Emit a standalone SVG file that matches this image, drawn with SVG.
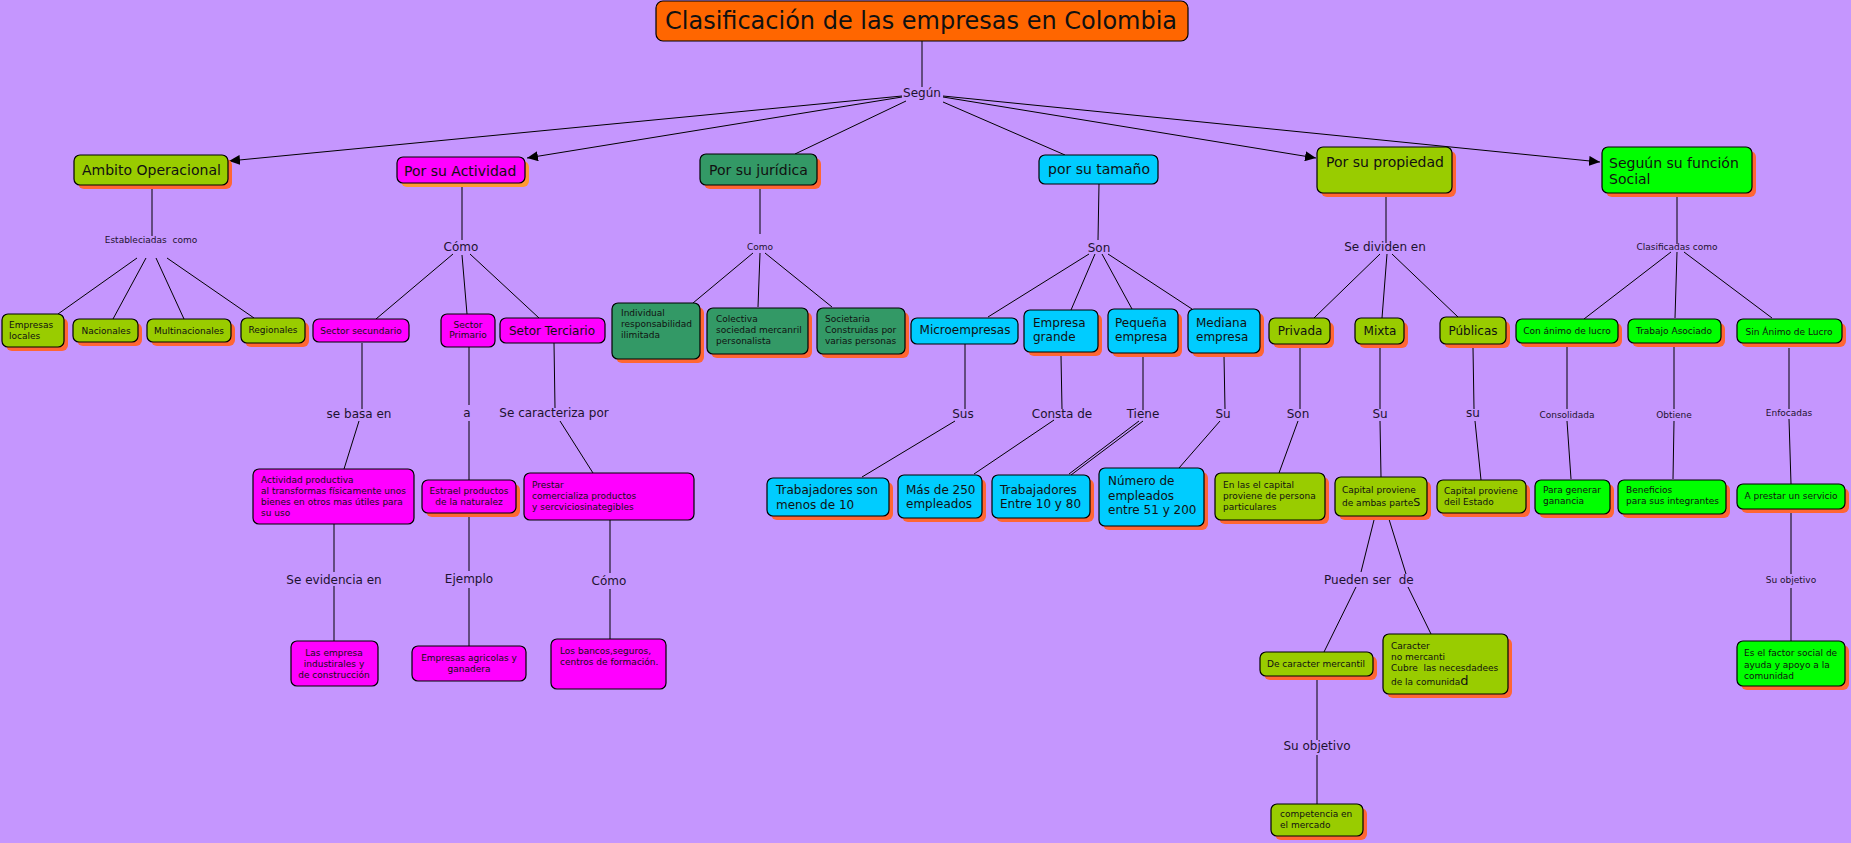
<svg xmlns="http://www.w3.org/2000/svg" width="1851" height="843" viewBox="0 0 1851 843">
<defs>
<style>
.bx{stroke:#000;stroke-width:1.2}
.sh{fill:#FF6633}
.sh2{fill:#FF9933}
.og{fill:#99CC00}.mg{fill:#FF00FF}.dg{fill:#339966}.cy{fill:#00CCFF}.gr{fill:#00FF00}.or{fill:#FF6600}
text{font-family:"DejaVu Sans",Verdana,sans-serif;fill:#111}
.f24{font-size:24px}.f14{font-size:14px}.f12{font-size:12px}.f9{font-size:9px}
.m{text-anchor:middle}
.lb{fill:#1d1230}
.ln{stroke:#000;stroke-width:1;fill:none}
</style>
<marker id="ar" markerUnits="userSpaceOnUse" markerWidth="11" markerHeight="10" refX="11" refY="5" orient="auto">
<path d="M0,0 L11,5 L0,10 z" fill="#000"/>
</marker>
</defs>
<rect width="1851" height="843" fill="#C596FE"/>

<g id="connectors">
<line class="ln" x1="922" y1="41" x2="922" y2="87"/>
<line class="ln" x1="902" y1="96" x2="229" y2="161" marker-end="url(#ar)"/>
<line class="ln" x1="902" y1="97" x2="527" y2="158" marker-end="url(#ar)"/>
<line class="ln" x1="906" y1="101" x2="795" y2="154"/>
<line class="ln" x1="943" y1="102" x2="1065" y2="155"/>
<line class="ln" x1="943" y1="97" x2="1316" y2="158" marker-end="url(#ar)"/>
<line class="ln" x1="943" y1="96" x2="1600" y2="162" marker-end="url(#ar)"/>

<line class="ln" x1="152" y1="189" x2="152" y2="236"/>
<line class="ln" x1="137" y1="258" x2="58" y2="314"/>
<line class="ln" x1="146" y1="258" x2="113" y2="319"/>
<line class="ln" x1="156" y1="258" x2="184" y2="319"/>
<line class="ln" x1="167" y1="258" x2="254" y2="318"/>

<line class="ln" x1="462" y1="187" x2="462" y2="240"/>
<line class="ln" x1="453" y1="254" x2="376" y2="319"/>
<line class="ln" x1="462" y1="255" x2="467" y2="314"/>
<line class="ln" x1="470" y1="254" x2="539" y2="318"/>

<line class="ln" x1="760" y1="189" x2="760" y2="234"/>
<line class="ln" x1="753" y1="253" x2="693" y2="303"/>
<line class="ln" x1="760" y1="253" x2="758" y2="307"/>
<line class="ln" x1="765" y1="253" x2="832" y2="307"/>

<line class="ln" x1="1099" y1="184" x2="1098" y2="240"/>
<line class="ln" x1="1089" y1="254" x2="988" y2="317"/>
<line class="ln" x1="1095" y1="254" x2="1071" y2="310"/>
<line class="ln" x1="1102" y1="254" x2="1132" y2="309"/>
<line class="ln" x1="1108" y1="254" x2="1192" y2="309"/>

<line class="ln" x1="1386" y1="197" x2="1386" y2="243"/>
<line class="ln" x1="1380" y1="254" x2="1314" y2="318"/>
<line class="ln" x1="1387" y1="254" x2="1382" y2="318"/>
<line class="ln" x1="1392" y1="254" x2="1458" y2="317"/>

<line class="ln" x1="1677" y1="197" x2="1677" y2="244"/>
<line class="ln" x1="1671" y1="252" x2="1584" y2="319"/>
<line class="ln" x1="1677" y1="252" x2="1675" y2="318"/>
<line class="ln" x1="1684" y1="252" x2="1772" y2="318"/>

<line class="ln" x1="362" y1="343" x2="362" y2="409"/>
<line class="ln" x1="359" y1="421" x2="344" y2="469"/>
<line class="ln" x1="469" y1="347" x2="469" y2="405"/>
<line class="ln" x1="469" y1="421" x2="469" y2="480"/>
<line class="ln" x1="554" y1="343" x2="555" y2="408"/>
<line class="ln" x1="560" y1="421" x2="593" y2="473"/>

<line class="ln" x1="965" y1="344" x2="965" y2="409"/>
<line class="ln" x1="955" y1="421" x2="862" y2="477"/>
<line class="ln" x1="1061" y1="356" x2="1062" y2="409"/>
<line class="ln" x1="1054" y1="420" x2="974" y2="474"/>
<line class="ln" x1="1143" y1="356" x2="1143" y2="410"/>
<line class="ln" x1="1139" y1="421" x2="1069" y2="474"/>
<line class="ln" x1="1143" y1="421" x2="1071" y2="475"/>
<line class="ln" x1="1224" y1="356" x2="1225" y2="409"/>
<line class="ln" x1="1220" y1="421" x2="1179" y2="468"/>

<line class="ln" x1="1300" y1="348" x2="1300" y2="409"/>
<line class="ln" x1="1298" y1="421" x2="1279" y2="473"/>
<line class="ln" x1="1380" y1="348" x2="1380" y2="409"/>
<line class="ln" x1="1380" y1="421" x2="1381" y2="477"/>
<line class="ln" x1="1473" y1="348" x2="1474" y2="409"/>
<line class="ln" x1="1475" y1="421" x2="1481" y2="480"/>

<line class="ln" x1="1567" y1="347" x2="1567" y2="409"/>
<line class="ln" x1="1567" y1="421" x2="1571" y2="479"/>
<line class="ln" x1="1674" y1="347" x2="1674" y2="409"/>
<line class="ln" x1="1674" y1="421" x2="1673" y2="479"/>
<line class="ln" x1="1789" y1="348" x2="1789" y2="409"/>
<line class="ln" x1="1789" y1="419" x2="1791" y2="484"/>

<line class="ln" x1="334" y1="524" x2="334" y2="572"/>
<line class="ln" x1="334" y1="586" x2="334" y2="641"/>
<line class="ln" x1="469" y1="513" x2="469" y2="571"/>
<line class="ln" x1="469" y1="588" x2="469" y2="646"/>
<line class="ln" x1="610" y1="520" x2="610" y2="573"/>
<line class="ln" x1="610" y1="589" x2="610" y2="639"/>

<line class="ln" x1="1374" y1="520" x2="1361" y2="572"/>
<line class="ln" x1="1356" y1="587" x2="1324" y2="652"/>
<line class="ln" x1="1388" y1="516" x2="1406" y2="574"/>
<line class="ln" x1="1408" y1="587" x2="1431" y2="634"/>
<line class="ln" x1="1317" y1="679" x2="1317" y2="740"/>
<line class="ln" x1="1317" y1="755" x2="1317" y2="804"/>
<line class="ln" x1="1791" y1="513" x2="1791" y2="574"/>
<line class="ln" x1="1791" y1="588" x2="1791" y2="641"/>
</g>

<g id="labels">
<text class="f12 lb m" x="922" y="97">Según</text>
<text class="f9 lb m" x="151" y="243">Estableciadas&#160; como</text>
<text class="f12 lb m" x="461" y="251">Cómo</text>
<text class="f9 lb m" x="760" y="250">Como</text>
<text class="f12 lb m" x="1099" y="252">Son</text>
<text class="f12 lb m" x="1385" y="251">Se dividen en</text>
<text class="f9 lb m" x="1677" y="250">Clasificadas como</text>
<text class="f12 lb m" x="359" y="418">se basa en</text>
<text class="f12 lb m" x="467" y="417">a</text>
<text class="f12 lb m" x="554" y="417">Se caracteriza por</text>
<text class="f12 lb m" x="963" y="418">Sus</text>
<text class="f12 lb m" x="1062" y="418">Consta de</text>
<text class="f12 lb m" x="1143" y="418">Tiene</text>
<text class="f12 lb m" x="1223" y="418">Su</text>
<text class="f12 lb m" x="1298" y="418">Son</text>
<text class="f12 lb m" x="1380" y="418">Su</text>
<text class="f12 lb m" x="1473" y="417">su</text>
<text class="f9 lb m" x="1567" y="418">Consolidada</text>
<text class="f9 lb m" x="1674" y="418">Obtiene</text>
<text class="f9 lb m" x="1789" y="416">Enfocadas</text>
<text class="f12 lb m" x="334" y="584">Se evidencia en</text>
<text class="f12 lb m" x="469" y="583">Ejemplo</text>
<text class="f12 lb m" x="609" y="585">Cómo</text>
<text class="f12 lb" x="1324" y="584">Pueden ser&#160; de</text>
<text class="f12 lb m" x="1317" y="750">Su objetivo</text>
<text class="f9 lb m" x="1791" y="583">Su objetivo</text>
</g>

<g id="n-title"><rect class="bx or" x="656" y="1" width="532" height="40" rx="7"/><text class="f24" x="665" y="29">Clasificación de las empresas en Colombia</text></g>

<g id="n-ambito"><rect class="sh" x="78" y="159" width="154" height="30" rx="6"/><rect class="bx og" x="74" y="155" width="154" height="30" rx="6"/><text class="f14" x="82" y="175">Ambito Operacional</text></g>
<g id="n-actividad"><rect class="sh2" x="401" y="161" width="128" height="26" rx="6"/><rect class="bx mg" x="397" y="157" width="128" height="26" rx="6"/><text class="f14" x="404" y="176">Por su Actividad</text></g>
<g id="n-juridica"><rect class="sh" x="704" y="158" width="117" height="31" rx="6"/><rect class="bx dg" x="700" y="154" width="117" height="31" rx="6"/><text class="f14" x="709" y="175">Por su jurídica</text></g>
<g id="n-tamano"><rect class="bx cy" x="1039" y="155" width="119" height="29" rx="6"/><text class="f14" x="1048" y="174">por su tamaño</text></g>
<g id="n-propiedad"><rect class="sh" x="1321" y="151" width="135" height="46" rx="6"/><rect class="bx og" x="1317" y="147" width="135" height="46" rx="6"/><text class="f14" x="1326" y="167">Por su propiedad</text></g>
<g id="n-funcion"><rect class="sh" x="1606" y="151" width="150" height="46" rx="6"/><rect class="bx gr" x="1602" y="147" width="150" height="46" rx="6"/><text class="f14" x="1609" y="168">Seguún su función</text><text class="f14" x="1609" y="184">Social</text></g>

<g id="n-locales"><rect class="sh" x="6" y="318" width="62" height="33" rx="6"/><rect class="bx og" x="2" y="314" width="62" height="33" rx="6"/><text class="f9" x="9" y="328">Empresas</text><text class="f9" x="9" y="339">locales</text></g>
<g id="n-nacionales"><rect class="sh" x="77" y="323" width="65" height="23" rx="6"/><rect class="bx og" x="73" y="319" width="65" height="23" rx="6"/><text class="f9 m" x="106" y="334">Nacionales</text></g>
<g id="n-multi"><rect class="sh" x="151" y="323" width="84" height="23" rx="6"/><rect class="bx og" x="147" y="319" width="84" height="23" rx="6"/><text class="f9 m" x="189" y="334">Multinacionales</text></g>
<g id="n-regionales"><rect class="sh" x="245" y="322" width="64" height="25" rx="6"/><rect class="bx og" x="241" y="318" width="64" height="25" rx="6"/><text class="f9 m" x="273" y="333">Regionales</text></g>
<g id="n-secundario"><rect class="bx mg" x="313" y="319" width="96" height="23" rx="6"/><text class="f9 m" x="361" y="334">Sector secundario</text></g>
<g id="n-primario"><rect class="bx mg" x="441" y="314" width="54" height="33" rx="6"/><text class="f9 m" x="468" y="328">Sector</text><text class="f9 m" x="468" y="338">Primario</text></g>
<g id="n-terciario"><rect class="bx mg" x="500" y="318" width="105" height="25" rx="6"/><text class="f12" x="509" y="335">Setor Terciario</text></g>

<g id="n-individual"><rect class="sh" x="616" y="307" width="88" height="56" rx="6"/><rect class="bx dg" x="612" y="303" width="88" height="56" rx="6"/><text class="f9" x="621" y="316">Individual</text><text class="f9" x="621" y="327">responsabilidad</text><text class="f9" x="621" y="338">ilimitada</text></g>
<g id="n-colectiva"><rect class="sh" x="711" y="312" width="101" height="46" rx="6"/><rect class="bx dg" x="707" y="308" width="101" height="46" rx="6"/><text class="f9" x="716" y="322">Colectiva</text><text class="f9" x="716" y="333">sociedad mercanril</text><text class="f9" x="716" y="344">personalista</text></g>
<g id="n-societaria"><rect class="sh" x="821" y="312" width="88" height="46" rx="6"/><rect class="bx dg" x="817" y="308" width="88" height="46" rx="6"/><text class="f9" x="825" y="322">Societaria</text><text class="f9" x="825" y="333">Construidas por</text><text class="f9" x="825" y="344">varias personas</text></g>

<g id="n-micro"><rect class="bx cy" x="911" y="318" width="107" height="26" rx="6"/><text class="f12 m" x="965" y="334">Microempresas</text></g>
<g id="n-grande"><rect class="sh" x="1028" y="314" width="74" height="42" rx="6"/><rect class="bx cy" x="1024" y="310" width="74" height="42" rx="6"/><text class="f12" x="1033" y="327">Empresa</text><text class="f12" x="1033" y="341">grande</text></g>
<g id="n-pequena"><rect class="sh" x="1112" y="313" width="70" height="44" rx="6"/><rect class="bx cy" x="1108" y="309" width="70" height="44" rx="6"/><text class="f12" x="1115" y="327">Pequeña</text><text class="f12" x="1115" y="341">empresa</text></g>
<g id="n-mediana"><rect class="sh" x="1192" y="313" width="72" height="44" rx="6"/><rect class="bx cy" x="1188" y="309" width="72" height="44" rx="6"/><text class="f12" x="1196" y="327">Mediana</text><text class="f12" x="1196" y="341">empresa</text></g>

<g id="n-privada"><rect class="sh" x="1273" y="322" width="61" height="26" rx="6"/><rect class="bx og" x="1269" y="318" width="61" height="26" rx="6"/><text class="f12 m" x="1300" y="335">Privada</text></g>
<g id="n-mixta"><rect class="sh" x="1359" y="322" width="49" height="26" rx="6"/><rect class="bx og" x="1355" y="318" width="49" height="26" rx="6"/><text class="f12 m" x="1380" y="335">Mixta</text></g>
<g id="n-publicas"><rect class="sh" x="1444" y="321" width="66" height="27" rx="6"/><rect class="bx og" x="1440" y="317" width="66" height="27" rx="6"/><text class="f12 m" x="1473" y="335">Públicas</text></g>

<g id="n-conanimo"><rect class="sh" x="1520" y="323" width="102" height="24" rx="6"/><rect class="bx gr" x="1516" y="319" width="102" height="24" rx="6"/><text class="f9 m" x="1567" y="334">Con ánimo de lucro</text></g>
<g id="n-trabajo"><rect class="sh" x="1632" y="323" width="93" height="24" rx="6"/><rect class="bx gr" x="1628" y="319" width="93" height="24" rx="6"/><text class="f9 m" x="1674" y="334">Trabajo Asociado</text></g>
<g id="n-sinanimo"><rect class="sh" x="1741" y="323" width="105" height="24" rx="6"/><rect class="bx gr" x="1737" y="319" width="105" height="24" rx="6"/><text class="f9 m" x="1789" y="335">Sin Ánimo de Lucro</text></g>

<g id="n-actprod"><rect class="bx mg" x="253" y="469" width="161" height="55" rx="6"/><text class="f9" x="261" y="483">Actividad productiva</text><text class="f9" x="261" y="494">al transformas físicamente unos</text><text class="f9" x="261" y="505">bienes en otros mas útiles para</text><text class="f9" x="261" y="516">su uso</text></g>
<g id="n-estrael"><rect class="sh" x="426" y="484" width="94" height="33" rx="6"/><rect class="bx mg" x="422" y="480" width="94" height="33" rx="6"/><text class="f9 m" x="469" y="494">Estrael productos</text><text class="f9 m" x="469" y="505">de la naturalez</text></g>
<g id="n-prestar"><rect class="bx mg" x="524" y="473" width="170" height="47" rx="6"/><text class="f9" x="532" y="488">Prestar</text><text class="f9" x="532" y="499">comercializa productos</text><text class="f9" x="532" y="510">y sercviciosinategibles</text></g>

<g id="n-menos10"><rect class="sh" x="771" y="482" width="122" height="38" rx="6"/><rect class="bx cy" x="767" y="478" width="122" height="38" rx="6"/><text class="f12" x="776" y="494">Trabajadores son</text><text class="f12" x="776" y="509">menos de 10</text></g>
<g id="n-mas250"><rect class="sh" x="902" y="479" width="84" height="43" rx="6"/><rect class="bx cy" x="898" y="475" width="84" height="43" rx="6"/><text class="f12" x="906" y="494">Más de 250</text><text class="f12" x="906" y="508">empleados</text></g>
<g id="n-10y80"><rect class="sh" x="996" y="479" width="98" height="43" rx="6"/><rect class="bx cy" x="992" y="475" width="98" height="43" rx="6"/><text class="f12" x="1000" y="494">Trabajadores</text><text class="f12" x="1000" y="508">Entre 10 y 80</text></g>
<g id="n-numero"><rect class="sh" x="1103" y="472" width="105" height="58" rx="6"/><rect class="bx cy" x="1099" y="468" width="105" height="58" rx="6"/><text class="f12" x="1108" y="485">Número de</text><text class="f12" x="1108" y="500">empleados</text><text class="f12" x="1108" y="514">entre 51 y 200</text></g>

<g id="n-enlas"><rect class="sh" x="1219" y="477" width="110" height="47" rx="6"/><rect class="bx og" x="1215" y="473" width="110" height="47" rx="6"/><text class="f9" x="1223" y="488">En las el capital</text><text class="f9" x="1223" y="499">proviene de persona</text><text class="f9" x="1223" y="510">particulares</text></g>
<g id="n-ambas"><rect class="sh" x="1339" y="481" width="92" height="39" rx="6"/><rect class="bx og" x="1335" y="477" width="92" height="39" rx="6"/><text class="f9" x="1342" y="493">Capital proviene</text><text class="f9" x="1342" y="506">de ambas parte<tspan font-size="11">S</tspan></text></g>
<g id="n-estado"><rect class="sh" x="1441" y="484" width="89" height="33" rx="6"/><rect class="bx og" x="1437" y="480" width="89" height="33" rx="6"/><text class="f9" x="1444" y="494">Capital proviene</text><text class="f9" x="1444" y="505">deil Estado</text></g>
<g id="n-ganancia"><rect class="sh" x="1539" y="484" width="75" height="34" rx="6"/><rect class="bx gr" x="1535" y="480" width="75" height="34" rx="6"/><text class="f9" x="1543" y="493">Para generar</text><text class="f9" x="1543" y="504">ganancia</text></g>
<g id="n-beneficios"><rect class="sh" x="1622" y="484" width="108" height="34" rx="6"/><rect class="bx gr" x="1618" y="480" width="108" height="34" rx="6"/><text class="f9" x="1626" y="493">Beneficios</text><text class="f9" x="1626" y="504">para sus integrantes</text></g>
<g id="n-aprestar"><rect class="sh" x="1741" y="488" width="108" height="25" rx="6"/><rect class="bx gr" x="1737" y="484" width="108" height="25" rx="6"/><text class="f9 m" x="1791" y="499">A prestar un servicio</text></g>

<g id="n-lasempresa"><rect class="bx mg" x="291" y="641" width="87" height="45" rx="6"/><text class="f9 m" x="334" y="656">Las empresa</text><text class="f9 m" x="334" y="667">industirales y</text><text class="f9 m" x="334" y="678">de construcción</text></g>
<g id="n-agricolas"><rect class="bx mg" x="412" y="646" width="114" height="35" rx="6"/><text class="f9 m" x="469" y="661">Empresas agricolas y</text><text class="f9 m" x="469" y="672">ganadera</text></g>
<g id="n-bancos"><rect class="bx mg" x="551" y="639" width="115" height="50" rx="6"/><text class="f9" x="560" y="654">Los bancos,seguros,</text><text class="f9" x="560" y="665">centros de formación.</text></g>

<g id="n-mercantil"><rect class="sh" x="1264" y="656" width="113" height="24" rx="6"/><rect class="bx og" x="1260" y="652" width="113" height="24" rx="6"/><text class="f9 m" x="1316" y="667">De caracter mercantil</text></g>
<g id="n-caracter"><rect class="sh" x="1387" y="638" width="125" height="60" rx="6"/><rect class="bx og" x="1383" y="634" width="125" height="60" rx="6"/><text class="f9" x="1391" y="649">Caracter</text><text class="f9" x="1391" y="660">no mercanti</text><text class="f9" x="1391" y="671">Cubre&#160; las necesdadees</text><text class="f9" x="1391" y="685">de la comunida<tspan font-size="13">d</tspan></text></g>
<g id="n-competencia"><rect class="sh" x="1275" y="808" width="92" height="32" rx="6"/><rect class="bx og" x="1271" y="804" width="92" height="32" rx="6"/><text class="f9" x="1280" y="817">competencia en</text><text class="f9" x="1280" y="828">el mercado</text></g>
<g id="n-factor"><rect class="sh" x="1741" y="645" width="108" height="45" rx="6"/><rect class="bx gr" x="1737" y="641" width="108" height="45" rx="6"/><text class="f9" x="1744" y="656">Es el factor social de</text><text class="f9" x="1744" y="668">ayuda y apoyo a la</text><text class="f9" x="1744" y="679">comunidad</text></g>
</svg>
